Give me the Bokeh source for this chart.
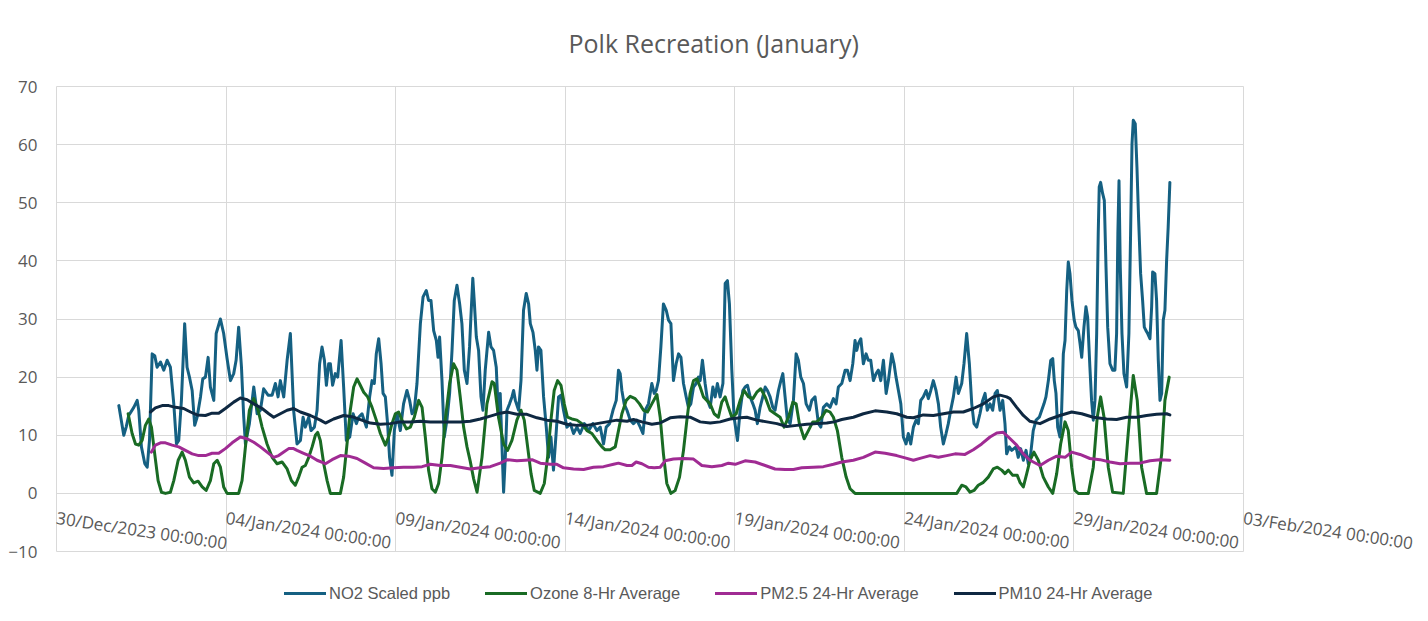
from bokeh.plotting import figure
from bokeh.models import FixedTicker, Legend, LegendItem, Title, Range1d, Label
from bokeh.embed import file_html
from bokeh.resources import INLINE

TITLE = "Polk Recreation (January)"
# x positions are hours since 30/Dec/2023 00:00
TICK_HOURS = [0, 120, 240, 360, 480, 600, 720, 840]
TICK_LABELS = ["30/Dec/2023 00:00:00", "04/Jan/2024 00:00:00", "09/Jan/2024 00:00:00",
               "14/Jan/2024 00:00:00", "19/Jan/2024 00:00:00", "24/Jan/2024 00:00:00",
               "29/Jan/2024 00:00:00", "03/Feb/2024 00:00:00"]
Y_TICKS = [-10, 0, 10, 20, 30, 40, 50, 60, 70]

SERIES_NAMES = ["NO2 Scaled ppb", "Ozone 8-Hr Average", "PM2.5 24-Hr Average", "PM10 24-Hr Average"]

NO2_T = [44.1, 47.6, 49.3, 51.1, 54.7, 57.1, 58.2, 60.1, 62.5, 64.2, 65.8, 67.7, 69.5, 71.2, 73.6, 75.9, 78.3, 80.6, 83.0, 84.9,
         86.5, 88.4, 90.7, 92.4, 94.1, 96.0, 97.8, 99.5, 101.9, 103.5, 105.4, 107.3, 108.9, 111.3, 113.0, 116.0, 118.3, 120.7, 123.1, 125.4,
         127.1, 128.9, 130.9, 132.5, 133.7, 136.5, 139.6, 142.0, 144.3, 146.6, 149.7, 152.6, 154.9, 156.8, 158.4, 160.8, 163.2, 165.5, 167.8, 170.2,
         172.6, 174.5, 176.1, 178.5, 180.1, 182.5, 184.4, 186.2, 187.9, 189.6, 191.0, 192.6, 193.8, 195.4, 197.3, 199.0, 201.4, 203.2, 205.1, 207.5,
         209.9, 212.2, 213.8, 216.2, 219.3, 221.6, 223.3, 224.9, 226.3, 228.0, 229.7, 231.1, 232.7, 234.3, 235.7, 237.4, 239.1, 241.0, 243.3, 245.6,
         248.0, 249.9, 251.6, 253.2, 255.1, 257.5, 259.4, 261.7, 263.3, 265.0, 266.9, 268.8, 270.0, 271.1, 272.8, 274.4, 276.3, 278.2, 279.9, 281.5,
         283.4, 285.3, 286.9, 288.6, 290.5, 292.3, 293.2, 294.6, 295.6, 297.1, 298.7, 300.4, 301.8, 303.4, 305.8, 307.5, 309.3, 311.2, 312.8, 314.0,
         315.2, 316.4, 317.6, 318.8, 320.6, 322.3, 323.5, 324.7, 327.0, 328.7, 330.5, 332.4, 334.1, 335.3, 337.2, 338.8, 340.0, 341.1, 342.8, 344.7,
         346.6, 348.2, 349.9, 351.7, 353.7, 355.3, 357.0, 358.8, 361.2, 363.6, 365.9, 368.3, 370.6, 373.5, 376.5, 379.6, 382.4, 384.8, 387.1, 389.0,
         391.4, 393.8, 396.1, 397.7, 398.9, 400.1, 401.7, 403.7, 406.0, 408.3, 410.7, 413.1, 415.0, 416.6, 418.9, 421.3, 423.0, 424.4, 426.0, 427.7,
         429.5, 431.5, 433.1, 434.8, 436.6, 438.5, 440.2, 441.9, 443.7, 445.6, 447.2, 448.9, 450.8, 452.7, 454.3, 455.5, 457.1, 459.0, 460.7, 462.6,
         464.5, 466.1, 467.7, 469.6, 471.6, 473.2, 474.8, 476.2, 477.9, 479.5, 481.9, 483.8, 485.7, 487.3, 489.0, 490.9, 492.8, 494.4, 496.0, 497.9,
         499.8, 501.5, 503.1, 505.0, 506.9, 508.5, 510.9, 512.6, 514.0, 515.6, 517.2, 519.2, 521.5, 523.4, 525.0, 526.7, 528.6, 530.5, 532.8, 534.5,
         536.8, 539.2, 540.9, 542.7, 545.1, 547.4, 549.8, 551.7, 553.3, 555.7, 558.1, 559.7, 561.6, 563.5, 565.1, 566.3, 567.5, 569.2, 571.0, 572.9,
         574.5, 576.2, 578.1, 580.0, 581.6, 583.3, 585.2, 587.1, 588.7, 591.1, 592.7, 594.1, 595.8, 597.5, 599.3, 601.2, 602.8, 604.5, 606.4, 608.3,
         609.9, 611.6, 613.4, 615.4, 617.0, 618.7, 620.5, 622.4, 624.1, 625.7, 627.6, 629.5, 631.1, 632.8, 634.7, 636.6, 638.2, 640.6, 642.2, 644.1,
         646.0, 647.7, 649.3, 651.2, 653.5, 655.4, 657.1, 658.7, 660.6, 662.5, 664.2, 665.8, 667.7, 669.6, 671.2, 672.4, 674.3, 676.0, 679.0, 680.6,
         682.3, 684.2, 686.1, 687.7, 689.4, 691.2, 693.2, 695.5, 697.2, 698.8, 700.2, 701.9, 703.6, 705.0, 706.1, 707.3, 708.5, 710.1, 711.3, 712.5,
         713.7, 714.9, 716.0, 717.2, 718.6, 720.2, 721.4, 723.1, 724.3, 725.5, 727.1, 728.5, 729.7, 731.3, 732.5, 733.7, 734.9, 736.1, 737.2, 737.9,
         738.9, 740.3, 741.5, 742.7, 743.9, 745.5, 747.4, 749.0, 750.2, 751.1, 751.9, 752.8, 754.0, 755.4, 757.3, 758.9, 760.1, 761.1, 762.0, 763.4,
         764.6, 765.8, 767.2, 768.6, 769.8, 771.0, 772.2, 773.8, 775.0, 775.7, 777.3, 778.5, 779.7, 780.9, 782.1, 783.2, 784.4, 785.6, 786.7, 787.9]
NO2_V = [15.1, 10.0, 11.4, 13.4, 14.8, 16.0, 14.3, 8.0, 5.1, 4.5, 9.1, 24.0, 23.7, 21.7, 22.6, 21.2, 22.9, 21.7, 15.4, 8.5,
         9.1, 16.0, 29.2, 21.7, 20.0, 17.7, 11.7, 13.1, 16.6, 19.7, 20.0, 23.4, 18.3, 16.0, 27.5, 30.0, 27.5, 23.2, 19.4, 20.6,
         22.9, 28.6, 21.7, 13.1, 8.5, 12.0, 18.3, 13.7, 14.3, 18.0, 16.9, 16.9, 18.9, 16.6, 19.4, 16.6, 22.9, 27.5, 14.3, 8.5,
         9.1, 13.1, 11.4, 13.1, 10.8, 11.4, 14.3, 22.3, 25.2, 22.9, 18.6, 22.3, 22.3, 18.6, 20.6, 20.0, 26.3, 18.3, 9.1, 9.7,
         13.7, 12.0, 13.1, 13.7, 11.4, 16.6, 19.4, 18.9, 24.0, 26.6, 22.3, 17.2, 16.6, 12.0, 6.2, 3.1, 10.8, 13.7, 10.8, 15.4,
         17.7, 16.0, 13.7, 14.3, 18.9, 29.2, 33.8, 34.9, 33.2, 33.2, 28.0, 26.3, 23.4, 26.9, 19.4, 9.7, 12.6, 17.2, 24.6, 33.2,
         35.8, 32.6, 29.2, 21.2, 18.9, 25.2, 30.0, 37.0, 33.2, 26.9, 24.6, 16.6, 14.3, 21.2, 27.7, 25.2, 24.6, 21.7, 13.1, 17.2,
         8.5, 0.2, 6.2, 14.3, 15.4, 16.6, 17.7, 16.0, 14.3, 19.4, 31.5, 34.4, 32.6, 29.2, 27.7, 24.6, 21.2, 25.2, 24.6, 16.6,
         11.4, 6.2, 9.7, 4.0, 10.8, 16.6, 16.9, 14.3, 11.4, 12.0, 10.3, 11.4, 10.3, 12.0, 10.8, 12.0, 10.8, 11.4, 8.5, 11.4,
         12.0, 14.3, 16.0, 21.2, 20.6, 17.7, 15.4, 14.3, 12.6, 12.0, 12.6, 11.4, 10.3, 14.3, 15.4, 18.9, 17.2, 17.7, 19.4, 25.2,
         32.6, 31.5, 29.8, 29.2, 19.4, 22.3, 24.0, 23.4, 18.9, 16.6, 14.8, 15.4, 18.3, 18.9, 20.0, 19.4, 22.9, 18.9, 16.0, 14.8,
         18.3, 16.6, 18.9, 16.6, 18.9, 36.1, 36.6, 32.6, 21.2, 13.1, 9.1, 14.3, 17.7, 18.3, 18.6, 16.6, 15.4, 14.3, 12.0, 14.8,
         16.6, 18.3, 17.7, 16.6, 14.8, 14.3, 17.7, 19.4, 20.6, 16.6, 12.6, 12.0, 16.0, 24.0, 22.9, 20.0, 18.9, 15.4, 14.3, 16.0,
         16.6, 12.0, 11.4, 14.8, 15.4, 14.8, 16.3, 15.4, 18.3, 18.9, 21.2, 21.2, 19.4, 22.3, 26.3, 24.6, 25.8, 26.6, 22.3, 24.0,
         22.9, 22.9, 19.4, 20.6, 21.2, 19.4, 22.9, 17.2, 19.4, 24.0, 22.3, 20.0, 17.7, 15.4, 9.7, 8.5, 10.3, 8.5, 11.4, 12.6,
         12.0, 16.0, 16.6, 17.7, 16.3, 17.7, 19.4, 17.7, 15.4, 11.4, 8.5, 10.3, 12.0, 14.3, 16.6, 20.0, 17.2, 18.9, 22.3, 27.5,
         22.3, 15.4, 12.0, 11.4, 13.7, 16.0, 17.2, 14.3, 15.4, 14.3, 17.2, 17.7, 14.3, 16.0, 12.0, 6.8, 8.0, 7.4, 8.0, 6.2,
         7.7, 5.7, 7.4, 5.1, 6.8, 10.8, 12.6, 13.1, 14.3, 15.4, 16.6, 19.4, 22.9, 23.2, 19.4, 17.2, 11.4, 9.7, 14.3, 24.0,
         26.3, 34.9, 39.8, 37.8, 33.2, 29.8, 28.6, 28.0, 25.8, 23.4, 28.6, 32.1, 30.3, 21.7, 16.0, 12.6, 16.0, 27.5, 44.7, 52.7,
         53.5, 51.6, 50.4, 38.9, 28.6, 22.3, 21.2, 21.2, 27.5, 44.7, 53.8, 38.9, 27.5, 20.6, 18.3, 27.5, 44.7, 60.1, 64.2, 63.6,
         56.1, 47.0, 37.8, 33.2, 28.6, 28.0, 27.5, 26.6, 32.1, 38.1, 37.8, 33.2, 22.9, 16.0, 17.2, 29.8, 31.5, 40.1, 45.8, 53.5]

OZONE_T = [50.7, 53.5, 55.9, 58.2, 60.6, 62.9, 65.3, 67.2, 69.5, 71.9, 74.3, 77.1, 80.6, 83.0, 86.1, 88.9, 91.2, 94.1, 97.1, 100.2,
           103.1, 105.9, 108.9, 111.3, 113.7, 116.0, 118.3, 120.7, 128.9, 131.3, 133.7, 136.5, 139.6, 142.7, 145.5, 149.0, 152.6, 156.1, 159.6, 163.2,
           166.2, 169.0, 171.4, 173.8, 176.1, 178.5, 180.9, 183.2, 184.8, 186.7, 189.1, 191.5, 193.8, 200.9, 203.2, 205.6, 207.9, 210.3, 212.7, 215.0,
           217.4, 220.2, 223.3, 226.3, 229.2, 232.7, 235.0, 237.4, 239.8, 242.1, 244.5, 247.6, 250.4, 253.2, 256.3, 258.7, 261.0, 263.3, 265.7, 268.1,
           270.4, 272.8, 275.1, 278.2, 281.0, 283.4, 285.7, 288.1, 290.5, 292.8, 295.2, 297.6, 301.1, 304.6, 308.2, 309.8, 312.8, 316.4, 319.2, 322.3,
           325.8, 328.7, 331.0, 333.4, 335.8, 338.1, 342.3, 345.2, 347.5, 349.9, 352.2, 354.6, 357.0, 359.3, 361.6, 364.7, 368.3, 371.8, 375.4, 378.9,
           382.4, 386.0, 388.3, 391.8, 395.4, 397.7, 400.1, 403.2, 406.0, 409.5, 412.6, 415.4, 418.2, 421.3, 424.9, 427.2, 429.5, 431.9, 434.8, 437.8,
           440.9, 443.7, 446.1, 448.4, 450.8, 453.2, 455.5, 457.8, 460.2, 462.6, 465.4, 468.4, 470.8, 473.2, 475.5, 477.9, 481.0, 483.8, 486.6, 489.7,
           492.8, 495.6, 498.4, 501.5, 505.0, 508.5, 512.1, 514.9, 518.0, 521.1, 523.4, 525.7, 529.1, 532.1, 535.2, 538.0, 541.6, 544.6, 547.4, 549.8,
           552.6, 555.7, 558.8, 561.6, 565.1, 637.1, 640.6, 643.6, 646.5, 649.3, 652.3, 655.9, 659.4, 662.9, 665.8, 668.9, 671.2, 673.6, 676.7, 679.9,
           681.8, 684.2, 686.6, 688.9, 691.7, 694.8, 698.3, 701.9, 705.0, 707.8, 710.6, 713.7, 716.0, 718.4, 720.7, 723.1, 730.2, 733.7, 736.5, 738.9,
           741.3, 744.3, 747.4, 754.9, 758.4, 762.0, 764.8, 767.9, 771.4, 778.5, 782.1, 784.4, 787.4]
OZONE_V = [13.7, 10.3, 8.5, 8.3, 9.1, 11.7, 12.8, 11.4, 6.8, 2.2, 0.2, 0, 0.2, 2.2, 5.7, 7.1, 5.7, 2.8, 1.8, 2.1,
           1.1, 0.5, 2.2, 5.1, 5.7, 4.5, 1.1, 0, 0, 2.2, 8.0, 14.3, 16.3, 14.3, 11.4, 8.5, 6.2, 5.1, 5.4, 4.2,
           2.2, 1.4, 2.8, 4.5, 4.8, 6.2, 8.0, 10.0, 10.5, 9.1, 5.1, 2.2, 0, 0, 2.8, 8.5, 14.3, 18.3, 19.7, 18.6,
           17.4, 16.6, 14.8, 12.6, 10.3, 8.3, 9.7, 12.0, 13.7, 14.0, 12.6, 11.1, 11.4, 13.1, 16.0, 14.8, 9.7, 4.0, 0.8, 0.2,
           1.7, 6.2, 12.6, 18.9, 22.3, 21.2, 16.6, 11.4, 8.0, 5.5, 2.5, 0.2, 6.2, 15.4, 19.2, 18.9, 13.1, 8.5, 7.4, 9.1,
           12.6, 14.3, 12.6, 8.0, 3.4, 0.5, 0, 1.7, 6.2, 12.6, 17.7, 19.4, 18.6, 15.4, 13.1, 12.8, 12.6, 12.0, 10.8, 10.3,
           9.1, 8.0, 7.5, 7.5, 8.0, 10.8, 13.7, 16.0, 16.7, 16.3, 15.4, 14.3, 14.0, 15.4, 17.0, 13.1, 6.8, 1.7, 0, 0.5,
           2.8, 7.4, 12.6, 17.2, 19.4, 19.7, 18.3, 16.6, 16.0, 15.4, 13.7, 13.1, 15.7, 16.6, 14.8, 13.1, 13.7, 16.0, 17.7, 16.6,
           16.3, 17.4, 18.0, 16.6, 14.3, 13.7, 13.1, 11.4, 13.1, 15.7, 15.4, 12.0, 9.4, 10.8, 12.3, 12.3, 13.1, 14.3, 14.0, 13.1,
           10.8, 6.2, 2.8, 0.8, 0, 0, 1.4, 1.1, 0.2, 0.5, 1.4, 1.9, 2.8, 4.2, 4.5, 4.0, 3.4, 4.0, 3.1, 3.1,
           1.9, 1.1, 3.4, 5.7, 7.1, 5.7, 2.8, 1.1, 0, 3.4, 8.5, 12.3, 10.8, 4.5, 0.5, 0, 0, 4.5, 13.1, 16.6,
           13.1, 4.5, 0.2, 0, 10.3, 20.3, 16.0, 4.5, 0, 0, 6.8, 16.0, 20.0]

PM25_T = [67.2, 70.0, 73.6, 77.1, 81.8, 86.5, 91.2, 96.0, 100.6, 105.4, 110.1, 114.8, 119.5, 124.3, 130.1, 134.9, 139.6, 144.3, 149.0, 153.7,
          157.2, 160.8, 164.3, 167.8, 170.2, 174.9, 179.7, 184.4, 190.3, 195.0, 200.9, 206.7, 212.7, 218.6, 224.4, 231.5, 238.6, 245.6, 252.7, 258.7,
          264.5, 271.6, 278.7, 285.7, 292.8, 299.9, 307.0, 314.0, 319.2, 325.8, 331.7, 336.5, 342.3, 349.4, 354.1, 358.8, 365.9, 373.0, 380.0, 387.1,
          394.2, 397.7, 403.7, 407.2, 410.2, 414.3, 418.9, 423.0, 427.2, 430.7, 436.6, 443.7, 450.8, 456.7, 463.8, 470.8, 475.5, 480.3, 487.3, 494.4,
          501.5, 508.5, 515.6, 521.5, 527.4, 535.6, 542.7, 549.8, 555.7, 563.9, 571.0, 579.3, 586.4, 594.6, 600.5, 606.4, 612.3, 618.2, 624.1, 630.0,
          635.9, 642.9, 648.8, 654.7, 660.6, 665.4, 670.0, 673.6, 679.5, 684.2, 688.9, 696.0, 701.9, 707.8, 713.7, 718.4, 724.3, 731.3, 738.4, 745.5,
          752.6, 759.6, 766.7, 773.8, 780.9, 787.9]
PM25_V = [7.1, 8.3, 8.7, 8.7, 8.3, 8.0, 7.4, 6.8, 6.5, 6.5, 6.9, 6.9, 7.7, 8.7, 9.7, 9.4, 8.8, 8.0, 7.1, 6.2,
          6.5, 7.1, 7.7, 7.7, 7.4, 6.9, 6.4, 5.7, 5.1, 5.8, 6.5, 6.4, 6.0, 5.2, 4.4, 4.3, 4.4, 4.5, 4.5, 4.6,
          5.0, 4.8, 4.8, 4.5, 4.2, 4.4, 4.6, 5.2, 5.8, 5.6, 5.7, 5.8, 5.2, 5.0, 5.0, 4.4, 4.2, 4.1, 4.5, 4.6,
          5.0, 5.2, 4.8, 4.8, 5.4, 5.1, 4.5, 4.4, 4.5, 5.6, 5.9, 6.0, 5.9, 4.8, 4.6, 4.8, 5.2, 5.0, 5.6, 5.4,
          4.8, 4.2, 4.1, 4.1, 4.4, 4.5, 4.6, 5.0, 5.4, 5.7, 6.2, 7.1, 6.9, 6.5, 6.1, 5.7, 6.1, 6.5, 6.2, 6.5,
          6.8, 6.7, 7.5, 8.5, 9.7, 10.4, 10.5, 9.7, 8.3, 6.8, 5.7, 4.8, 5.7, 6.4, 6.2, 7.1, 6.7, 6.0, 5.8, 5.4,
          5.1, 5.2, 5.2, 5.6, 5.8, 5.7]

PM10_T = [66.5, 70.0, 74.8, 79.4, 84.2, 90.0, 94.8, 99.5, 105.4, 110.1, 114.8, 119.5, 125.4, 130.1, 134.9, 139.6, 145.5, 150.2, 153.7, 158.4,
          163.2, 167.8, 172.6, 179.7, 186.7, 190.3, 196.1, 203.2, 209.1, 215.0, 222.1, 229.2, 236.2, 243.3, 250.4, 257.5, 264.5, 271.6, 278.7, 285.7,
          292.8, 299.9, 307.0, 314.0, 318.8, 325.8, 332.9, 340.0, 347.1, 354.1, 361.2, 368.3, 375.4, 382.4, 389.5, 396.6, 403.7, 408.3, 414.3, 421.3,
          427.2, 434.3, 441.4, 448.4, 455.5, 462.6, 469.6, 476.7, 483.8, 488.5, 495.6, 502.7, 509.8, 516.8, 523.9, 531.0, 538.0, 545.1, 550.3, 555.7,
          563.9, 571.0, 579.3, 587.6, 594.6, 601.7, 606.4, 613.4, 620.5, 627.6, 634.7, 641.7, 648.8, 655.9, 662.9, 667.7, 672.4, 674.8, 679.5, 684.2,
          688.9, 696.0, 703.1, 710.1, 718.4, 725.5, 733.7, 743.1, 750.2, 757.3, 764.4, 771.4, 778.5, 785.6, 787.9]
PM10_V = [14.0, 14.7, 15.1, 15.1, 14.8, 14.6, 14.0, 13.5, 13.4, 13.8, 13.8, 14.6, 15.7, 16.4, 16.1, 15.4, 14.6, 13.7, 13.1, 13.7,
          14.3, 14.6, 14.0, 13.4, 12.6, 12.1, 12.8, 13.4, 13.2, 12.7, 12.1, 11.9, 12.0, 12.3, 12.3, 12.4, 12.3, 12.3, 12.3, 12.3,
          12.4, 12.8, 13.3, 13.8, 14.0, 13.6, 13.6, 13.0, 12.6, 12.4, 11.9, 11.7, 11.7, 12.0, 12.3, 12.6, 12.4, 12.7, 12.3, 11.9,
          12.1, 13.0, 13.2, 13.1, 12.3, 12.1, 12.3, 12.8, 13.0, 13.1, 12.6, 12.3, 12.0, 11.5, 11.7, 11.9, 12.0, 12.1, 12.3, 12.7,
          13.1, 13.7, 14.2, 14.0, 13.7, 13.1, 13.0, 13.5, 13.4, 13.7, 14.0, 14.0, 14.6, 15.4, 16.6, 16.9, 16.6, 16.3, 14.8, 13.4,
          12.4, 12.0, 12.8, 13.4, 14.0, 13.7, 13.1, 12.8, 12.7, 13.1, 13.1, 13.4, 13.6, 13.7, 13.5]

COLORS = ["#156082", "#196b24", "#a02b93", "#0e2841"]
TEXT_COLOR = "#595959"
GRID_COLOR = "#d9d9d9"
FONT = "Open Sans"

# plot-area scale: 35 days over 1187 px, 80 units over 465 px
PX_PER_HOUR = 1187.0 / (TICK_HOURS[-1] - TICK_HOURS[0])
PX_PER_UNIT = 465.0 / (Y_TICKS[-1] - Y_TICKS[0])
# the frame runs to the right and bottom edges so that tick labels and legend are not clipped;
# gridlines are bounded to the real plot area with cross_bounds
FRAME_W = 1365
FRAME_H = 528
X_START = TICK_HOURS[0] - 1.0 / PX_PER_HOUR
X_END = X_START + FRAME_W / PX_PER_HOUR
Y_END = Y_TICKS[-1] + 1.0 / PX_PER_UNIT
Y_START = Y_END - FRAME_H / PX_PER_UNIT

p = figure(frame_width=FRAME_W, frame_height=FRAME_H,
           min_border_left=55, min_border_right=0, min_border_top=85, min_border_bottom=0,
           x_range=Range1d(X_START, X_END), y_range=Range1d(Y_START, Y_END),
           output_backend="svg", toolbar_location=None, title=None)
p.background_fill_color = "white"
p.border_fill_color = "white"
p.outline_line_color = None

renderers = []
for (t, v), c in zip([(NO2_T, NO2_V), (OZONE_T, OZONE_V), (PM25_T, PM25_V), (PM10_T, PM10_V)], COLORS):
    r = p.line(t, v, line_color=c, line_width=3, line_join="round", line_cap="round")
    renderers.append(r)

# x axis: ticks only drive the grid; labels are drawn at the ticks, under the zero line
xt = FixedTicker(ticks=TICK_HOURS)
p.xaxis.ticker = xt
p.xaxis.visible = False
for h, lab in zip(TICK_HOURS, TICK_LABELS):
    p.add_layout(Label(x=h, y=0, x_units="data", y_units="data", text=lab,
                       angle=-0.15, text_align="left", text_baseline="middle",
                       x_offset=0, y_offset=-24,
                       text_font=FONT, text_font_size="17px", text_color=TEXT_COLOR))

yt = FixedTicker(ticks=Y_TICKS)
p.yaxis.ticker = yt
p.yaxis.axis_line_color = None
p.yaxis.major_tick_line_color = None
p.yaxis.minor_tick_line_color = None
p.yaxis.major_tick_out = 0
p.yaxis.major_label_standoff = 18
p.yaxis.major_label_text_font = FONT
p.yaxis.major_label_text_font_size = "17px"
p.yaxis.major_label_text_color = TEXT_COLOR

p.xgrid.ticker = xt
p.ygrid.ticker = yt
p.xgrid.grid_line_color = GRID_COLOR
p.ygrid.grid_line_color = GRID_COLOR
p.xgrid.grid_line_width = 1
p.ygrid.grid_line_width = 1
p.ygrid[0].cross_bounds = (TICK_HOURS[0], TICK_HOURS[-1])
p.xgrid[0].cross_bounds = (Y_TICKS[0], Y_TICKS[-1])

# title
title = Title(text=TITLE, align="left", offset=513, vertical_align="top", standoff=48,
              text_font=FONT, text_font_size="25px", text_font_style="normal",
              text_color=TEXT_COLOR)
p.add_layout(title, "above")

legend = Legend(items=[LegendItem(label=n, renderers=[r]) for n, r in zip(SERIES_NAMES, renderers)],
                orientation="horizontal", location=(229, 10),
                glyph_width=42, glyph_height=20, label_height=20, label_standoff=3,
                spacing=35, padding=0, margin=0,
                border_line_color=None, background_fill_alpha=0,
                label_text_font="Liberation Sans", label_text_font_size="16.5px",
                label_text_color=TEXT_COLOR)
p.add_layout(legend)

open("out.html", "w").write(file_html(p, INLINE))
